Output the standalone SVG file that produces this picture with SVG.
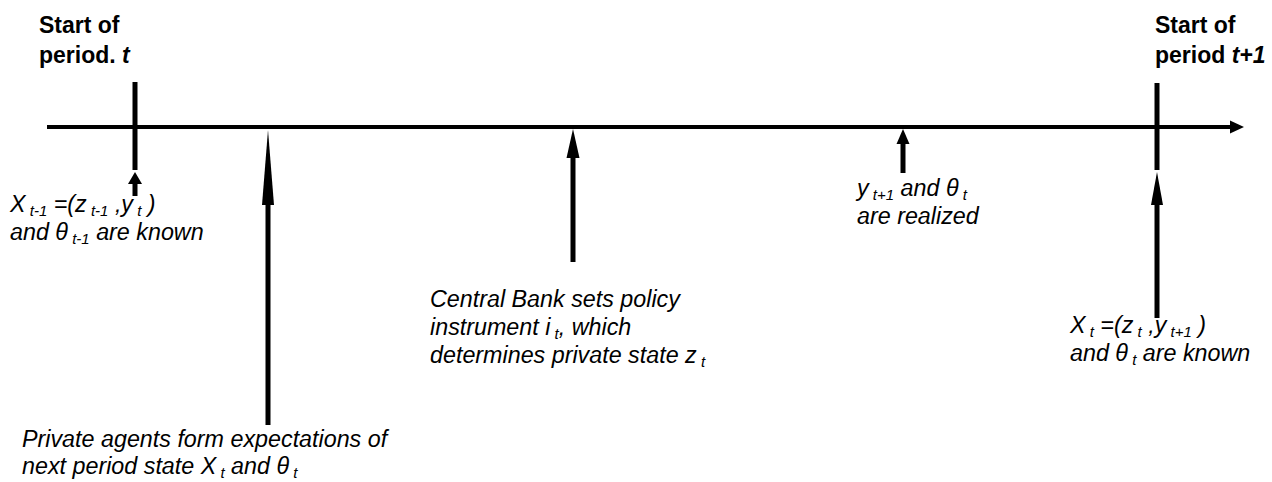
<svg xmlns="http://www.w3.org/2000/svg" width="1272" height="482" viewBox="0 0 1272 482">
<style>
.t{font-family:"Liberation Sans",Arial,sans-serif;font-size:23.3px;font-style:italic;fill:#000}
.b{font-family:"Liberation Sans",Arial,sans-serif;font-size:23px;font-weight:bold;fill:#000}
.s{font-size:15px}
.ln{stroke:#000;stroke-width:5;fill:none}
.hd{fill:#000}
</style>
<rect width="1272" height="482" fill="#fff"/>
<g id="connectors">
<line class="ln" x1="47" y1="127" x2="1232" y2="127" style="stroke-width:4"/>
<polygon class="hd" points="1244,127 1230,120.5 1230,133.5"/>
<line class="ln" x1="135" y1="82" x2="135" y2="170"/>
<line class="ln" x1="1157" y1="83" x2="1157" y2="170"/>
<line class="ln" x1="135" y1="183" x2="135" y2="196"/>
<polygon class="hd" points="135,172 128,184 142,184"/>
<line class="ln" x1="268" y1="200" x2="268" y2="425"/>
<polygon class="hd" points="268,130 262,205 274,205"/>
<line class="ln" x1="573" y1="156" x2="573" y2="262"/>
<polygon class="hd" points="573,129 566.5,158 579.5,158"/>
<line class="ln" x1="903" y1="142" x2="903" y2="173"/>
<polygon class="hd" points="903,129 896.5,144 909.5,144"/>
<line class="ln" x1="1157" y1="200" x2="1157" y2="318"/>
<polygon class="hd" points="1157,172 1151,205 1163,205"/>
</g>
<g id="start-t">
<text class="b" x="39" y="33">Start of</text>
<text class="b" x="39" y="63">period. <tspan font-style="italic">t</tspan></text>
</g>
<g id="start-t1">
<text class="b" x="1155" y="33">Start of</text>
<text class="b" x="1155" y="63">period <tspan font-style="italic">t+1</tspan></text>
</g>
<g id="known-t-1">
<text class="t" x="10" y="212">X<tspan class="s" dy="4"> t-1</tspan><tspan dy="-4"> =(z</tspan><tspan class="s" dy="4"> t-1</tspan><tspan dy="-4"> ,y</tspan><tspan class="s" dy="4"> t</tspan><tspan dy="-4"> )</tspan></text>
<text class="t" x="10" y="240">and θ<tspan class="s" dy="4"> t-1</tspan><tspan dy="-4"> are known</tspan></text>
</g>
<g id="expectations">
<text class="t" x="22" y="447">Private agents form expectations of</text>
<text class="t" x="22" y="474">next period state X<tspan class="s" dy="4"> t</tspan><tspan dy="-4">  and θ</tspan><tspan class="s" dy="4"> t</tspan></text>
</g>
<g id="central-bank">
<text class="t" x="430" y="307">Central Bank sets policy</text>
<text class="t" x="430" y="335">instrument i<tspan class="s" dy="4"> t</tspan><tspan dy="-4">, which</tspan></text>
<text class="t" x="430" y="363">determines private state z<tspan class="s" dy="4"> t</tspan></text>
</g>
<g id="realized">
<text class="t" x="857" y="196">y<tspan class="s" dy="4"> t+1</tspan><tspan dy="-4"> and θ</tspan><tspan class="s" dy="4"> t</tspan></text>
<text class="t" x="857" y="224">are realized</text>
</g>
<g id="known-t">
<text class="t" x="1070" y="333">X<tspan class="s" dy="4"> t</tspan><tspan dy="-4"> =(z</tspan><tspan class="s" dy="4"> t</tspan><tspan dy="-4"> ,y</tspan><tspan class="s" dy="4"> t+1</tspan><tspan dy="-4"> )</tspan></text>
<text class="t" x="1070" y="361">and θ<tspan class="s" dy="4"> t</tspan><tspan dy="-4"> are known</tspan></text>
</g>
</svg>
